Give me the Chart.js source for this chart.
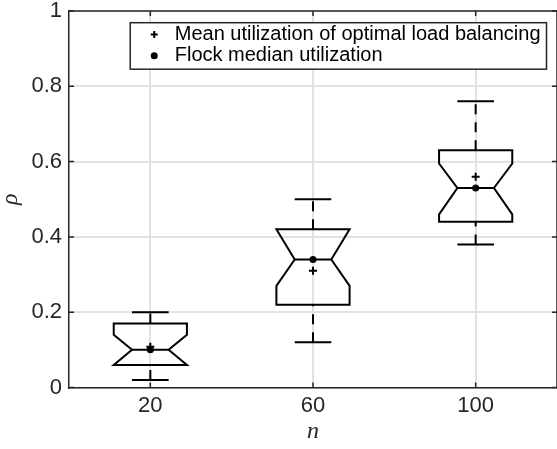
<!DOCTYPE html>
<html>
<head>
<meta charset="utf-8">
<script src="https://cdn.jsdelivr.net/npm/chart.js@4"></script>
<style>
  body { margin: 0; background: #fff; }
  canvas { display: block; }
</style>
</head>
<body>
<canvas id="boxChart" width="557" height="449"></canvas>
<script>
const positions = [20, 60, 100];
const whiskerLow = [0.02, 0.12, 0.38];
const q1 = [0.06, 0.22, 0.44];
const notchLow = [0.06, 0.27, 0.46];
const median = [0.10, 0.34, 0.53];
const notchHigh = [0.14, 0.42, 0.595];
const q3 = [0.17, 0.42, 0.63];
const whiskerHigh = [0.20, 0.50, 0.76];
const meanUtil = [0.108, 0.31, 0.56];
const yTicks = [0, 0.2, 0.4, 0.6, 0.8, 1];

const seriesLabels = ['Mean utilization of optimal load balancing', 'Flock median utilization'];

const axisColor = '#262626';
const boxHalf = 9;     // x units
const notchHalf = 4.5;
const capHalf = 4.5;

// boxes, whiskers, frame, inward ticks and legend
const boxPlugin = {
  id: 'notchedBoxes',
  beforeDatasetsDraw(chart) {
    const ctx = chart.ctx;
    const xs = v => chart.scales.x.getPixelForValue(v);
    const ys = v => chart.scales.y.getPixelForValue(v);
    ctx.save();
    ctx.strokeStyle = '#000';
    ctx.lineWidth = 2;
    ctx.lineJoin = 'miter';
    positions.forEach((p, i) => {
      const xc = xs(p);
      // whiskers (dashed)
      ctx.setLineDash([10, 8]);
      ctx.beginPath();
      ctx.moveTo(xc, ys(q3[i]));
      ctx.lineTo(xc, ys(whiskerHigh[i]));
      ctx.moveTo(xc, ys(whiskerLow[i]));
      ctx.lineTo(xc, ys(q1[i]));
      ctx.stroke();
      ctx.setLineDash([]);
      // caps
      ctx.beginPath();
      ctx.moveTo(xs(p - capHalf), ys(whiskerHigh[i]));
      ctx.lineTo(xs(p + capHalf), ys(whiskerHigh[i]));
      ctx.moveTo(xs(p - capHalf), ys(whiskerLow[i]));
      ctx.lineTo(xs(p + capHalf), ys(whiskerLow[i]));
      ctx.stroke();
      // notched box
      const xl = xs(p - boxHalf), xr = xs(p + boxHalf);
      const nl = xs(p - notchHalf), nr = xs(p + notchHalf);
      ctx.beginPath();
      ctx.moveTo(xl, ys(q3[i]));
      ctx.lineTo(xr, ys(q3[i]));
      ctx.lineTo(xr, ys(notchHigh[i]));
      ctx.lineTo(nr, ys(median[i]));
      ctx.lineTo(xr, ys(notchLow[i]));
      ctx.lineTo(xr, ys(q1[i]));
      ctx.lineTo(xl, ys(q1[i]));
      ctx.lineTo(xl, ys(notchLow[i]));
      ctx.lineTo(nl, ys(median[i]));
      ctx.lineTo(xl, ys(notchHigh[i]));
      ctx.closePath();
      ctx.stroke();
      // median line
      ctx.beginPath();
      ctx.moveTo(nl, ys(median[i]));
      ctx.lineTo(nr, ys(median[i]));
      ctx.stroke();
    });
    ctx.restore();
  },
  afterDraw(chart) {
    const ctx = chart.ctx;
    const a = chart.chartArea;
    const xs = v => chart.scales.x.getPixelForValue(v);
    const ys = v => chart.scales.y.getPixelForValue(v);
    ctx.save();
    ctx.strokeStyle = axisColor;
    ctx.lineWidth = 1.5;
    // top and right frame
    ctx.beginPath();
    ctx.moveTo(a.left, a.top);
    ctx.lineTo(a.right, a.top);
    ctx.lineTo(a.right, a.bottom);
    ctx.stroke();
    // inward ticks
    const tl = 5;
    ctx.beginPath();
    yTicks.forEach(v => {
      ctx.moveTo(a.left, ys(v)); ctx.lineTo(a.left + tl, ys(v));
      ctx.moveTo(a.right, ys(v)); ctx.lineTo(a.right - tl, ys(v));
    });
    positions.forEach(v => {
      ctx.moveTo(xs(v), a.bottom); ctx.lineTo(xs(v), a.bottom - tl);
      ctx.moveTo(xs(v), a.top); ctx.lineTo(xs(v), a.top + tl);
    });
    ctx.stroke();

    // legend
    ctx.font = '20px "Liberation Sans", Arial, sans-serif';
    const textW = Math.max(...seriesLabels.map(s => ctx.measureText(s).width));
    const w = 44.5 + textW + 6;
    const h = 46.5;
    const right = a.right - 10.5;
    const left = right - w;
    const top = a.top + 11.7;
    ctx.fillStyle = '#fff';
    ctx.fillRect(left, top, w, h);
    ctx.strokeRect(left, top, w, h);
    const rows = [top + 11.8, top + 33];
    const mx = left + 24;
    // plus marker
    ctx.strokeStyle = '#000';
    ctx.lineWidth = 2;
    ctx.beginPath();
    ctx.moveTo(mx - 3.5, rows[0]); ctx.lineTo(mx + 3.5, rows[0]);
    ctx.moveTo(mx, rows[0] - 3.5); ctx.lineTo(mx, rows[0] + 3.5);
    ctx.stroke();
    // dot marker
    ctx.fillStyle = '#000';
    ctx.beginPath();
    ctx.arc(mx, rows[1], 3.5, 0, Math.PI * 2);
    ctx.fill();
    ctx.textAlign = 'left';
    ctx.textBaseline = 'middle';
    seriesLabels.forEach((s, k) => ctx.fillText(s, left + 44.5, rows[k]));
    ctx.restore();
  }
};

const tickFont = { family: '"Liberation Sans", Arial, sans-serif', size: 22 };

new Chart(document.getElementById('boxChart'), {
  type: 'scatter',
  data: {
    datasets: [
      {
        label: seriesLabels[0],
        data: positions.map((p, i) => ({ x: p, y: meanUtil[i] })),
        pointStyle: 'cross',
        pointRadius: 4,
        borderWidth: 2,
        borderColor: '#000',
        backgroundColor: '#000'
      },
      {
        label: seriesLabels[1],
        data: positions.map((p, i) => ({ x: p, y: median[i] })),
        pointStyle: 'circle',
        pointRadius: 3.5,
        borderWidth: 0,
        borderColor: '#000',
        backgroundColor: '#000'
      }
    ]
  },
  options: {
    responsive: false,
    animation: false,
    layout: { autoPadding: false, padding: { top: 11, right: -2, left: 0, bottom: 0 } },
    plugins: {
      legend: { display: false },
      tooltip: { enabled: false }
    },
    scales: {
      x: {
        type: 'linear',
        min: 0,
        max: 120,
        afterBuildTicks: scale => { scale.ticks = positions.map(v => ({ value: v })); },
        afterFit: scale => {
          scale.height = 61.5;
          scale.paddingLeft = 0;
          scale.paddingRight = 0;
        },
        grid: { color: '#e2e2e2', lineWidth: 2, drawTicks: false },
        border: { color: axisColor, width: 1.5 },
        ticks: { color: axisColor, font: tickFont, padding: 5.5, maxRotation: 0, callback: v => String(v) },
        title: {
          display: true,
          text: 'n',
          color: axisColor,
          font: { family: '"Liberation Serif", "Times New Roman", serif', size: 24, style: 'italic' },
          padding: { top: 0, bottom: 3 }
        }
      },
      y: {
        min: 0,
        max: 1,
        afterBuildTicks: scale => { scale.ticks = yTicks.map(v => ({ value: v })); },
        afterFit: scale => {
          scale.width = 69;
          scale.paddingTop = 0;
          scale.paddingBottom = 0;
        },
        grid: { color: '#e2e2e2', lineWidth: 2, drawTicks: false },
        border: { color: axisColor, width: 1.5 },
        ticks: { color: axisColor, font: tickFont, padding: 7, callback: v => String(v) },
        title: {
          display: true,
          text: 'ρ',
          color: axisColor,
          font: { family: '"Liberation Serif", "Times New Roman", serif', size: 24, style: 'italic', lineHeight: 0.9 },
          padding: 0
        }
      }
    }
  },
  plugins: [boxPlugin]
});
</script>
</body>
</html>
